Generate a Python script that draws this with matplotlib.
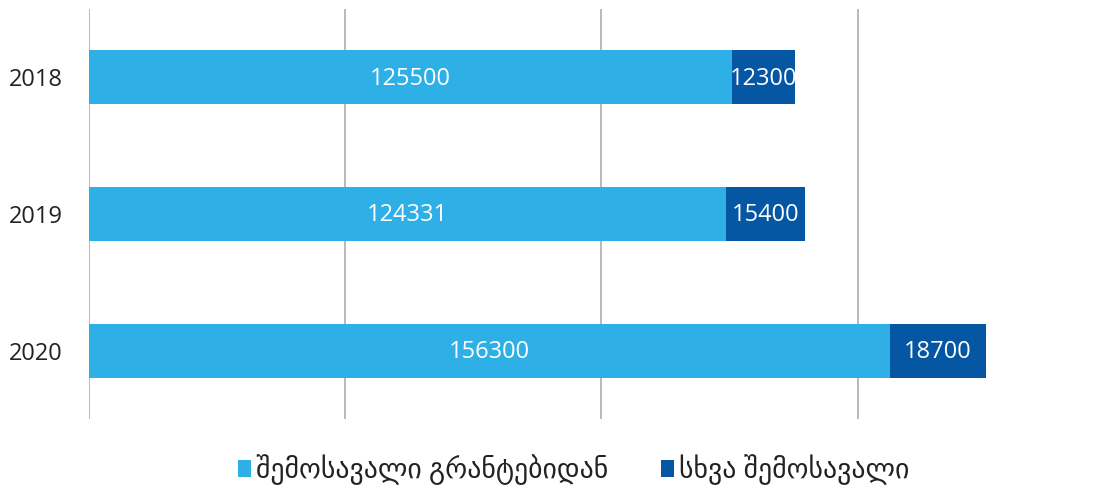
import matplotlib.pyplot as plt
import numpy as np

plt.rcParams['font.family'] = ['Open Sans', 'DejaVu Sans']

years = ['2018', '2019', '2020']
grants = [125500, 124331, 156300]
other = [12300, 15400, 18700]
labels = ['შემოსავალი გრანტებიდან', 'სხვა შემოსავალი']
colors = ['#2EB0E6', '#0556A3']

fig = plt.figure(figsize=(11.05, 4.92), dpi=100)
ax = fig.add_axes([89 / 1105, 1 - 419 / 492, (1100 - 89) / 1105, 410 / 492])

y = np.arange(len(years))
b1 = ax.barh(y, grants, height=0.395, color=colors[0], label=labels[0], zorder=2)
b2 = ax.barh(y, other, left=grants, height=0.395, color=colors[1], label=labels[1], zorder=2)

for bars, vals, lefts in [(b1, grants, [0] * 3), (b2, other, grants)]:
    for i, v in enumerate(vals):
        ax.text(lefts[i] + v / 2, y[i] + 0.01, str(v), ha='center', va='center',
                color='white', fontsize=17, zorder=3)

ax.set_xlim(0, 197300)
ax.set_ylim(2.5, -0.5)
ax.set_xticks([0, 50000, 100000, 150000])
ax.xaxis.grid(True, color='#B4B4B4', linewidth=1.3, zorder=0)
ax.tick_params(axis='x', length=0, labelbottom=False)
ax.tick_params(axis='y', length=0, labelsize=17, labelcolor='#222222', pad=19)
ax.set_yticks(y)
ax.set_yticklabels(years)
for s in ax.spines.values():
    s.set_visible(False)

fig.legend(handles=[b1, b2], labels=labels, loc='center', bbox_to_anchor=(574 / 1105, 1 - 470 / 492),
           ncol=2, frameon=False, fontsize=20, handlelength=0.45, handleheight=0.55,
           handletextpad=0.2, columnspacing=1.9, labelcolor='#222222')

fig.savefig('out.png', dpi=100)
